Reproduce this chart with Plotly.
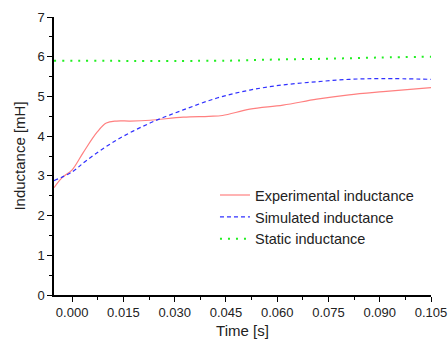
import plotly.graph_objects as go

time_exp = [-0.0053, -0.003, 0.0, 0.0032, 0.0073, 0.010, 0.013, 0.017, 0.0228,
            0.0325, 0.040, 0.044, 0.052, 0.0617, 0.0716, 0.081, 0.091, 0.105]
ind_exp = [2.70, 2.95, 3.15, 3.58, 4.10, 4.33, 4.38, 4.38, 4.40,
           4.48, 4.50, 4.52, 4.68, 4.78, 4.93, 5.04, 5.12, 5.22]

time_sim = [-0.0053, 0.0, 0.0044, 0.013, 0.0228, 0.0325, 0.0424, 0.052,
            0.0617, 0.0716, 0.081, 0.091, 0.105]
ind_sim = [2.88, 3.10, 3.40, 3.90, 4.33, 4.66, 4.96, 5.16,
           5.29, 5.37, 5.43, 5.45, 5.43]

time_stat = [-0.0053, 0.045, 0.060, 0.075, 0.090, 0.105]
ind_stat = [5.90, 5.90, 5.93, 5.95, 5.98, 6.00]

x_ticks = [0.0, 0.015, 0.030, 0.045, 0.060, 0.075, 0.090, 0.105]

fig = go.Figure()
fig.add_trace(go.Scatter(x=time_exp, y=ind_exp, mode="lines", name="Experimental inductance",
                         line=dict(color="#ff8080", width=1.2, shape="spline")))
fig.add_trace(go.Scatter(x=time_sim, y=ind_sim, mode="lines", name="Simulated inductance",
                         line=dict(color="#3030ff", width=1.2, dash="4px,3px", shape="spline")))
fig.add_trace(go.Scatter(x=time_stat, y=ind_stat, mode="lines", name="Static inductance",
                         line=dict(color="#22ee22", width=2, dash="2px,6px", shape="spline")))

axis_common = dict(showline=True, linecolor="black", linewidth=1.5, ticks="outside",
                   ticklen=5, tickcolor="black", showgrid=False, zeroline=False,
                   tickfont=dict(family="Liberation Sans, Arial", size=13, color="#222"),
                   mirror=False, automargin=False)

fig.update_layout(
    width=448, height=342,
    margin=dict(l=54, r=17, t=17, b=47),
    plot_bgcolor="white", paper_bgcolor="white",
    font=dict(family="Liberation Sans, Arial", size=14, color="#222"),
    xaxis=dict(range=[-0.0053, 0.105], tickvals=x_ticks, tickformat=".3f",
               title=dict(text="Time [s]", font=dict(size=15), standoff=6),
               minor=dict(dtick=0.0075, tick0=0, ticks="outside", ticklen=3, tickcolor="black"),
               **axis_common),
    yaxis=dict(range=[0, 7], dtick=1, tick0=0,
               title=dict(text="Inductance [mH]", font=dict(size=15), standoff=8),
               minor=dict(dtick=0.5, tick0=0, ticks="outside", ticklen=3, tickcolor="black"),
               **axis_common),
    legend=dict(x=0.427, y=0.417, xanchor="left", yanchor="top", bgcolor="rgba(0,0,0,0)",
                font=dict(size=14.5), tracegroupgap=0, itemwidth=30),
)

fig.write_html("out.html")
